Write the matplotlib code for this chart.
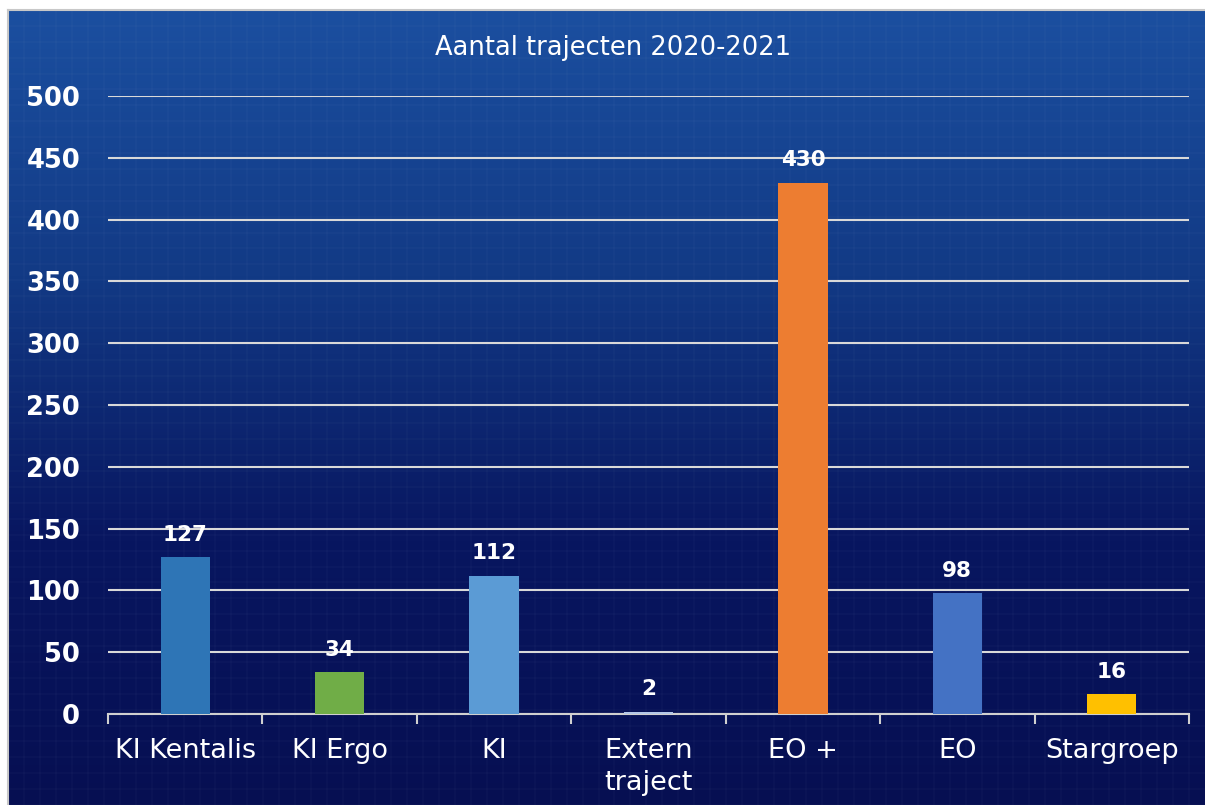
import numpy as np
import matplotlib.pyplot as plt
from matplotlib.colors import LinearSegmentedColormap

categories = ['KI Kentalis', 'KI Ergo', 'KI', 'Extern\ntraject', 'EO +', 'EO', 'Stargroep']
values = [127, 34, 112, 2, 430, 98, 16]
bar_colors = ['#2e75b6', '#70ad47', '#5b9bd5', '#b4c7e7', '#ed7d31', '#4472c4', '#ffc000']
yticks = [0, 50, 100, 150, 200, 250, 300, 350, 400, 450, 500]
title = 'Aantal trajecten 2020-2021'

W, H = 1205, 805
fig = plt.figure(figsize=(W / 100, H / 100), dpi=100, facecolor='white')

# background gradient panel
bg = fig.add_axes([8 / W, 0, 1 - 8 / W, 1 - 10 / H])
bg.set_axis_off()
cmap = LinearSegmentedColormap.from_list('bg', ['#1b4fa0', '#123a85', '#081660', '#060f52'])
grad = np.linspace(0, 1, 256).reshape(-1, 1)
bg.imshow(grad, aspect='auto', cmap=cmap, extent=[0, 1, 0, 1], origin='upper')
# faint woven texture
for xv in np.arange(0, 1, 1 / 150)[::2]:
    bg.axvline(xv, color='#ffffff', alpha=0.025, lw=1.2)
for yv in np.arange(0, 1, 1 / 100)[::2]:
    bg.axhline(yv, color='#ffffff', alpha=0.025, lw=1.2)
bg.set_xlim(0, 1)
bg.set_ylim(0, 1)
fig.add_artist(plt.Line2D([8 / W, 1], [1 - 10 / H, 1 - 10 / H], color='#c8c8c8', lw=1.5))
fig.add_artist(plt.Line2D([8 / W, 8 / W], [0, 1 - 10 / H], color='#c8c8c8', lw=1.5))

# main axes: x 108..1189, y(0)=714, y(500)=96
ax = fig.add_axes([108 / W, (H - 714) / H, (1189 - 108) / W, (714 - 96) / H])
ax.patch.set_alpha(0)
x = np.arange(len(categories))
ax.bar(x, values, width=0.32, color=bar_colors, zorder=3)
for xi, v in zip(x, values):
    ax.annotate(str(v), (xi, v), xytext=(0, 16), textcoords='offset points',
                ha='center', va='center', color='white', fontsize=15.5, fontweight='bold')

ax.set_xlim(-0.5, len(categories) - 0.5)
ax.set_ylim(0, 500)
ax.set_yticks(yticks)
ax.set_yticklabels([str(t) for t in yticks], color='white', fontsize=18.5, fontweight='bold')
ax.tick_params(axis='y', length=0, pad=20)
ax.set_xticks(x)
ax.set_xticklabels(categories, color='white', fontsize=19.5, linespacing=1.3, va='top')
ax.tick_params(axis='x', which='major', length=0, pad=17)
ax.set_xticks(np.arange(-0.5, len(categories)), minor=True)
ax.tick_params(axis='x', which='minor', length=7, width=1.5, color='#d0d0d0', direction='out')
ax.grid(axis='y', color='#d9d9d9', lw=1.5, zorder=1)
for s in ['top', 'right', 'left']:
    ax.spines[s].set_visible(False)
ax.spines['bottom'].set_color('#d0d0d0')
ax.spines['bottom'].set_linewidth(1.5)

fig.text(613 / W, 1 - 48 / H, title, ha='center', va='center', color='white', fontsize=18.5)

fig.savefig('out.png', dpi=100)
